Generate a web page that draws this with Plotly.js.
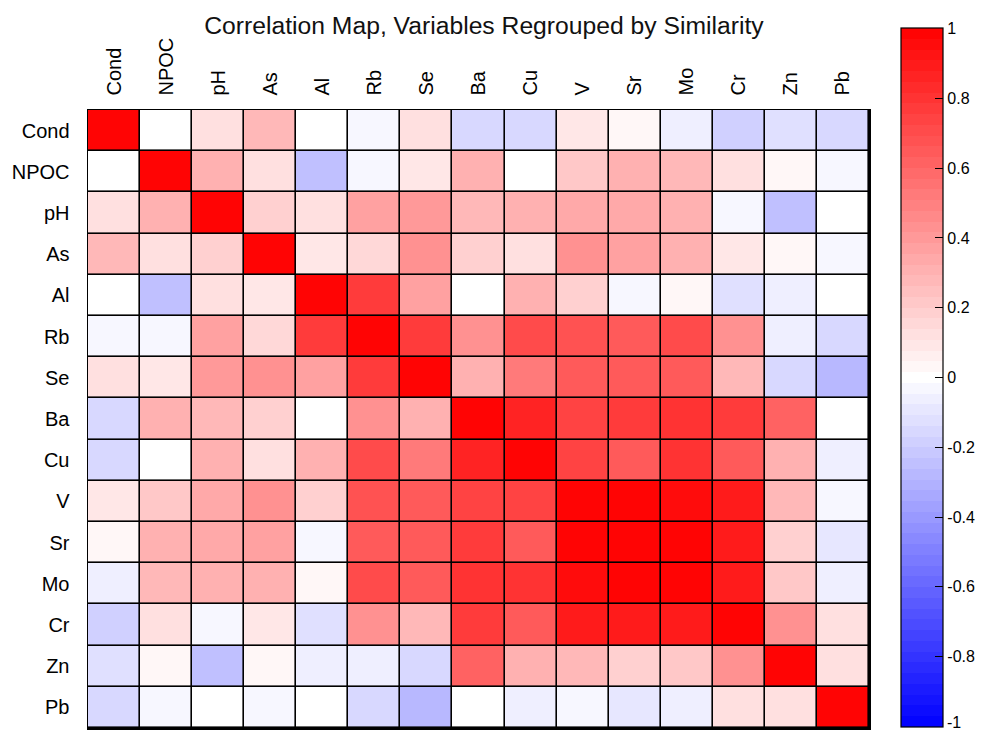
<!DOCTYPE html>
<html>
<head>
<meta charset="utf-8">
<script src="https://cdn.plot.ly/plotly-3.0.1.min.js"></script>
<style>html,body{margin:0;padding:0;background:#fff;}#chart{width:988px;height:732px;}</style>
</head>
<body>
<div id="chart"></div>
<script>
// Variable labels (same order for rows and columns)
const variables = ["Cond","NPOC","pH","As","Al","Rb","Se","Ba","Cu","V","Sr","Mo","Cr","Zn","Pb"];

// Correlation rows
const rowCond = [1.00, 0.00, 0.12, 0.27, 0.00,-0.04, 0.12,-0.14,-0.14, 0.08, 0.03,-0.07,-0.17,-0.11,-0.14];
const rowNPOC = [0.00, 1.00, 0.30, 0.12,-0.24,-0.04, 0.08, 0.30, 0.00, 0.22, 0.31, 0.28, 0.12, 0.03,-0.04];
const rowPH   = [0.12, 0.30, 1.00, 0.20, 0.12, 0.36, 0.40, 0.27, 0.30, 0.33, 0.33, 0.30,-0.04,-0.24, 0.00];
const rowAs   = [0.27, 0.12, 0.20, 1.00, 0.08, 0.16, 0.43, 0.20, 0.12, 0.42, 0.38, 0.30, 0.08, 0.04,-0.04];
const rowAl   = [0.00,-0.24, 0.12, 0.08, 1.00, 0.76, 0.38, 0.00, 0.30, 0.20,-0.04, 0.03,-0.11,-0.07, 0.00];
const rowRb   = [-0.04,-0.04,0.36, 0.16, 0.76, 1.00, 0.76, 0.42, 0.71, 0.68, 0.64, 0.71, 0.42,-0.07,-0.16];
const rowSe   = [0.12, 0.08, 0.40, 0.43, 0.38, 0.76, 1.00, 0.30, 0.53, 0.65, 0.64, 0.64, 0.27,-0.16,-0.27];
const rowBa   = [-0.14,0.30, 0.27, 0.20, 0.00, 0.42, 0.30, 1.00, 0.85, 0.75, 0.77, 0.80, 0.76, 0.61, 0.00];
const rowCu   = [-0.14,0.00, 0.30, 0.12, 0.30, 0.71, 0.53, 0.85, 1.00, 0.74, 0.66, 0.80, 0.66, 0.30,-0.07];
const rowV    = [0.08, 0.22, 0.33, 0.42, 0.20, 0.68, 0.65, 0.75, 0.74, 1.00, 0.98, 0.95, 0.88, 0.27,-0.04];
const rowSr   = [0.03, 0.31, 0.33, 0.38,-0.04, 0.64, 0.64, 0.77, 0.66, 0.98, 1.00, 0.98, 0.90, 0.20,-0.10];
const rowMo   = [-0.07,0.28, 0.30, 0.30, 0.03, 0.71, 0.64, 0.80, 0.80, 0.95, 0.98, 1.00, 0.90, 0.22,-0.07];
const rowCr   = [-0.17,0.12,-0.04, 0.08,-0.11, 0.42, 0.27, 0.76, 0.66, 0.88, 0.90, 0.90, 1.00, 0.43, 0.12];
const rowZn   = [-0.11,0.03,-0.24, 0.04,-0.07,-0.07,-0.16, 0.61, 0.30, 0.27, 0.20, 0.22, 0.43, 1.00, 0.12];
const rowPb   = [-0.14,-0.04,0.00,-0.04, 0.00,-0.16,-0.27, 0.00,-0.07,-0.04,-0.10,-0.07, 0.12, 0.12, 1.00];

// Colorbar tick values / labels
const cbTickVals = [-1,-0.8,-0.6,-0.4,-0.2,0,0.2,0.4,0.6,0.8,1];
const cbTickText = ["-1","-0.8","-0.6","-0.4","-0.2","0","0.2","0.4","0.6","0.8","1"];

const z = [rowCond,rowNPOC,rowPH,rowAs,rowAl,rowRb,rowSe,rowBa,rowCu,rowV,rowSr,rowMo,rowCr,rowZn,rowPb];

const ZMIN = -1.002, ZMAX = 1.002;

// stepped blue-white-red colorscale (odd number of bands so 0 is pure white)
function steppedBWR(n){
  const cs=[];
  for(let k=0;k<n;k++){
    const v=-1+(k+0.5)*2/n;
    let r,g,b;
    if(v>=0){r=255;g=Math.round(255*(1-v));b=g;}
    else{b=255;r=Math.round(255*(1+v));g=r;}
    const c=`rgb(${r},${g},${b})`;
    cs.push([k/n,c]);
    cs.push([(k+1)/n,c]);
  }
  return cs;
}

const font = "Liberation Sans, Arial, sans-serif";

// colorbar geometry (paper coords)
const CB_X = 1.0409, CB_W_PX = 42, PLOT_W = 783, PLOT_H = 618;
const CB_TOP = 1.1327, CB_LEN_PX = 699;

const trace = {
  type:"heatmap",
  x: variables,
  y: variables,
  z: z,
  zmin:ZMIN, zmax:ZMAX,
  colorscale: steppedBWR(65),
  xgap:1.6, ygap:1.6,
  colorbar:{
    thicknessmode:"pixels", thickness:CB_W_PX,
    lenmode:"pixels", len:CB_LEN_PX,
    x:CB_X, xanchor:"left", xref:"paper",
    y:CB_TOP, yanchor:"top", yref:"paper",
    xpad:0, ypad:0,
    outlinewidth:1.2, outlinecolor:"#000",
    tickmode:"array", tickvals:cbTickVals, ticktext:cbTickText,
    ticks:"inside", ticklen:8, tickwidth:1, tickcolor:"#000",
    tickfont:{family:font,size:16,color:"#000"},
    ticklabelstandoff:2
  }
};

// bottom colorbar label (Plotly drops the end label at the figure edge);
// kept fully inside the figure
const cbLabelIdx = 0;
const annotations = [{
  xref:"paper", yref:"paper",
  x: CB_X + (CB_W_PX+3)/PLOT_W, xanchor:"left",
  y: -4/PLOT_H, yanchor:"bottom",
  text: cbTickText[cbLabelIdx], showarrow:false,
  font:{family:font,size:16,color:"#000"},
  borderpad:0
}];

const layout = {
  width:988, height:732,
  margin:{l:88,r:117,t:110,b:4},
  paper_bgcolor:"#fff",
  plot_bgcolor:"#000",
  annotations: annotations,
  title:{
    text:"Correlation Map, Variables Regrouped by Similarity",
    font:{family:font,size:24.7,color:"#111"},
    xref:"paper", x:0.507, xanchor:"center",
    yref:"container", y:0.965, yanchor:"middle"
  },
  xaxis:{
    side:"top", type:"category",
    tickangle:-90,
    ticks:"", showgrid:false, zeroline:false,
    showline:true, linecolor:"#000", linewidth:1.5, mirror:true,
    tickfont:{family:font,size:20,color:"#000"},
    ticklabelstandoff:9
  },
  yaxis:{
    type:"category", autorange:"reversed",
    ticks:"", showgrid:false, zeroline:false,
    showline:true, linecolor:"#000", linewidth:1.5, mirror:true,
    tickfont:{family:font,size:20,color:"#000"},
    ticklabelstandoff:13
  }
};

Plotly.newPlot("chart",[trace],layout,{displayModeBar:false,staticPlot:true});
</script>
</body>
</html>
